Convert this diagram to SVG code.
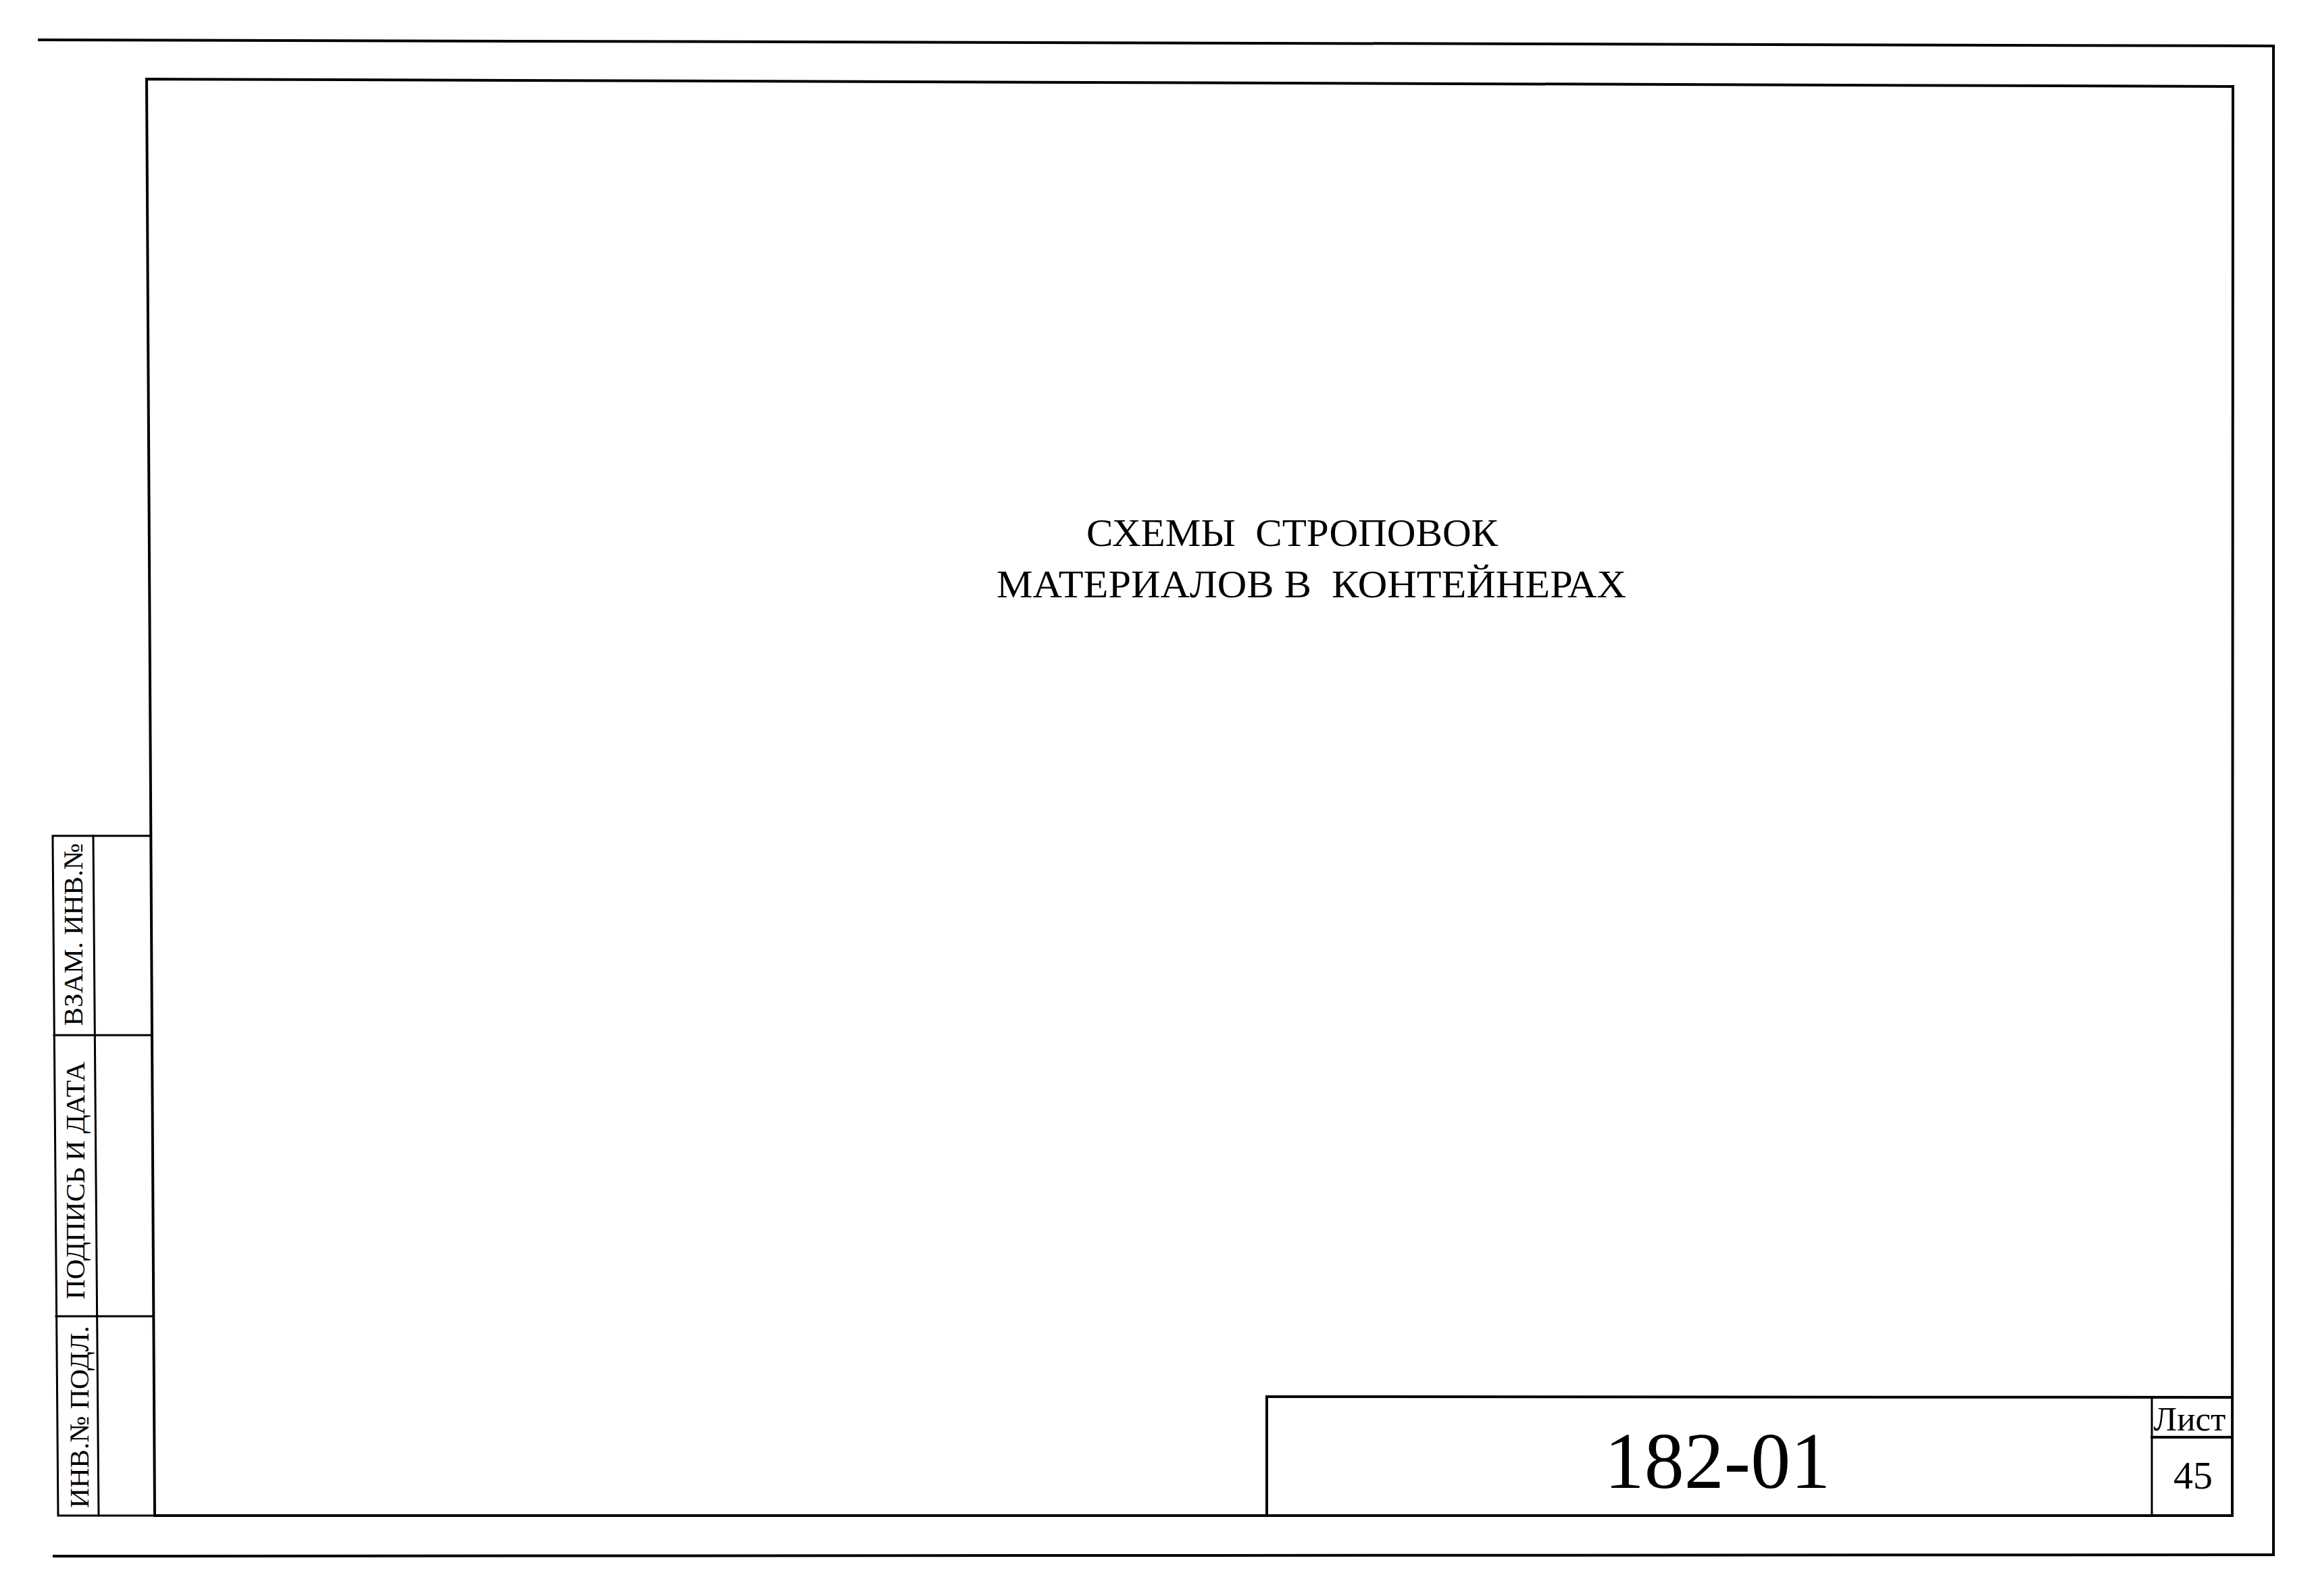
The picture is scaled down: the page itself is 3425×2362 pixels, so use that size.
<svg xmlns="http://www.w3.org/2000/svg" width="3425" height="2362" viewBox="0 0 3425 2362">
<style>
.ln{fill:none;stroke:#000;stroke-linecap:square;stroke-linejoin:miter}
.thick{stroke-width:4}
.mid{stroke-width:3}
.thin{stroke-width:2.5}
.t{font-family:"Liberation Serif","Times New Roman",serif;fill:#000}
</style>
<rect width="3425" height="2362" fill="#fff"/>
<g id="outer-frame">
<polyline class="ln thick" points="58,59 3365,68 3365,2301 80,2303"/>
</g>
<g id="inner-frame">
<polygon class="ln thick" points="217,117 3305,128 3304,2243 229,2243"/>
</g>
<g id="side-stamp">
<polyline class="ln mid" points="223,1237 78,1237 86,2243 229,2243"/>
<line class="ln mid" x1="138" y1="1237" x2="146" y2="2243"/>
<line class="ln mid" x1="80" y1="1532" x2="225" y2="1532"/>
<line class="ln mid" x1="83" y1="1948" x2="227" y2="1948"/>
<text class="t" font-size="41" text-anchor="middle" transform="translate(122,1383) rotate(-90)">ВЗАМ. ИНВ.№</text>
<text class="t" font-size="41" text-anchor="middle" transform="translate(125,1747) rotate(-90)">ПОДПИСЬ И ДАТА</text>
<text class="t" font-size="41" text-anchor="middle" transform="translate(131,2097) rotate(-90)">ИНВ.№ ПОДЛ.</text>
</g>
<g id="title">
<text class="t" font-size="56" x="1608" y="808" textLength="609" lengthAdjust="spacingAndGlyphs" xml:space="preserve">СХЕМЫ  СТРОПОВОК</text>
<text class="t" font-size="56" x="1475" y="884" textLength="932" lengthAdjust="spacingAndGlyphs" xml:space="preserve">МАТЕРИАЛОВ В  КОНТЕЙНЕРАХ</text>
</g>
<g id="title-block">
<polyline class="ln thick" points="1875,2243 1875,2067 3304,2068"/>
<line class="ln mid" x1="3185" y1="2068" x2="3185" y2="2243"/>
<line class="ln thick" x1="3185" y1="2127" x2="3304" y2="2127"/>
<text class="t" font-size="118" x="2542" y="2202" text-anchor="middle">182-01</text>
<text class="t" font-size="51" x="3241" y="2117" text-anchor="middle">Лист</text>
<text class="t" font-size="58" x="3246" y="2203" text-anchor="middle">45</text>
</g>
<g id="connectors"/>
</svg>
